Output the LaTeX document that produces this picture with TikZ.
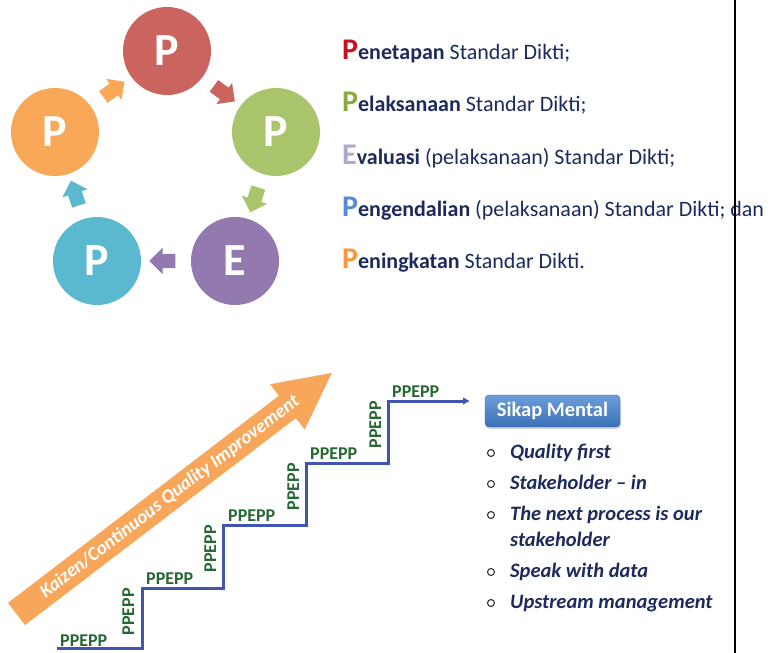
\documentclass[tikz,border=0pt]{standalone}
\usepackage{fontspec}
\setmainfont{Carlito}
\usetikzlibrary{arrows.meta,shapes.arrows,shadows}

\definecolor{ppred}{RGB}{203,100,94}
\definecolor{ppgreen}{RGB}{169,196,106}
\definecolor{pppurple}{RGB}{146,122,175}
\definecolor{ppblue}{RGB}{91,185,207}
\definecolor{pporange}{RGB}{249,168,88}
\definecolor{navy}{RGB}{28,43,92}
\definecolor{capred}{RGB}{200,16,30}
\definecolor{capgreen}{RGB}{140,170,60}
\definecolor{cappurple}{RGB}{180,165,205}
\definecolor{capblue}{RGB}{85,140,215}
\definecolor{caporange}{RGB}{250,150,60}
\definecolor{stairblue}{RGB}{64,84,178}
\definecolor{stepgreen}{RGB}{38,104,52}
\definecolor{kaizen}{RGB}{247,166,90}
\definecolor{sikaptop}{RGB}{108,158,218}
\definecolor{sikapbot}{RGB}{58,112,182}
\definecolor{sikapedge}{RGB}{60,105,170}

\newcommand{\stepinitial}[2]{{\bfseries\fontsize{30}{30}\selectfont\textcolor{#1}{#2}}}

\begin{document}
\begin{tikzpicture}[x=1pt,y=-1pt,
  phase/.style={circle, fill=#1, minimum size=88pt, inner sep=0pt, text=white,
    font=\bfseries\fontsize{46}{46}\selectfont},
  cyclearrow/.style={single arrow, fill=#1, draw=none, minimum height=26pt,
    inner xsep=0pt, inner ysep=7pt, single arrow head extend=6pt,
    midway, sloped, allow upside down},
  item/.style={anchor=base west, inner sep=0pt, text=navy, font=\fontsize{22}{26}\selectfont},
  stair/.style={draw=stairblue, line width=3pt, -{Latex[length=7pt,width=8pt]}},
  ppepp/.style={inner sep=0pt, text=stepgreen, font=\bfseries\fontsize{18}{18}\selectfont},
  kaizentext/.style={transform shape, inner sep=0pt, text=white, font=\bfseries\itshape\fontsize{19}{19}\selectfont},
  sikapbox/.style={rounded corners=4pt, top color=sikaptop, bottom color=sikapbot, draw=sikapedge,
    minimum width=135pt, minimum height=32pt, text=white, font=\bfseries\fontsize{20.5}{20.5}\selectfont,
    drop shadow={opacity=0.3, shadow xshift=1pt, shadow yshift=-2pt}},
  bulletdot/.style={circle, draw=black!80, line width=1.1pt, minimum size=7pt, inner sep=0pt},
  sikapitem/.style={anchor=base west, inner sep=0pt, text=navy, font=\bfseries\itshape\fontsize{20.5}{20.5}\selectfont}]

\fill[white] (0,0) rectangle (782,653);
\useasboundingbox (0,0) rectangle (782,653);

% PPEPP cycle
\node[phase=ppred] (cr) at (167,51) {P};
\node[phase=ppgreen] (cg) at (276,132) {P};
\node[phase=pppurple] (cp) at (235,261) {E};
\node[phase=ppblue] (cb) at (97,261) {P};
\node[phase=pporange] (co) at (55,132) {P};

\path (cr) -- (cg) node[cyclearrow=ppred] (a1) {};
\path (cg) -- (cp) node[cyclearrow=ppgreen] (a2) {};
\path (cp) -- (cb) node[cyclearrow=pppurple] (a3) {};
\path (cb) -- (co) node[cyclearrow=ppblue] (a4) {};
\path (co) -- (cr) node[cyclearrow=pporange] (a5) {};

% the five steps
\node[item] (t1) at (342,59) {\stepinitial{capred}{P}\textbf{enetapan} Standar Dikti;};
\node[item] (t2) at (342,111) {\stepinitial{capgreen}{P}\textbf{elaksanaan} Standar Dikti;};
\node[item] (t3) at (342,164) {\stepinitial{cappurple}{E}\textbf{valuasi} (pelaksanaan) Standar Dikti;};
\node[item] (t4) at (342,216) {\stepinitial{capblue}{P}\textbf{engendalian} (pelaksanaan) Standar Dikti; dan};
\node[item] (t5) at (342,268) {\stepinitial{caporange}{P}\textbf{eningkatan} Standar Dikti.};

% kaizen arrow
\begin{scope}[shift={(16.5,614)}, rotate=37.4]
  \fill[kaizen] (0,-14) -- (341,-14) -- (341,-28.5) -- (397,0) -- (341,28.5) -- (341,14) -- (0,14) -- cycle;
  \node[kaizentext] (kz) at (193,0) {Kaizen/Continuous Quality Improvement};
\end{scope}

% staircase
\draw[stair] (57,648) -| (142,588) -| (223,525) -| (306,463) -| (388,401) -- (470,401);
\node[ppepp, anchor=base west] (h1) at (60,646) {PPEPP};
\node[ppepp, anchor=base west] (h2) at (146,584) {PPEPP};
\node[ppepp, anchor=base west] (h3) at (228,521) {PPEPP};
\node[ppepp, anchor=base west] (h4) at (310,459) {PPEPP};
\node[ppepp, anchor=base west] (h5) at (392,397) {PPEPP};
\node[ppepp, rotate=90, anchor=base east] (v1) at (134,588) {PPEPP};
\node[ppepp, rotate=90, anchor=base east] (v2) at (216,525) {PPEPP};
\node[ppepp, rotate=90, anchor=base east] (v3) at (299,463) {PPEPP};
\node[ppepp, rotate=90, anchor=base east] (v4) at (381,401) {PPEPP};

% sikap mental
\node[sikapbox] (sikap) at (552.5,411) {Sikap Mental};
\node[bulletdot] (b1) at (491,453) {};
\node[bulletdot] (b2) at (491,484) {};
\node[bulletdot] (b3) at (491,515) {};
\node[bulletdot] (b4) at (491,572) {};
\node[bulletdot] (b5) at (491,603) {};
\node[sikapitem] (s1) at (510,458) {Quality first};
\node[sikapitem] (s2) at (510,489) {Stakeholder -- in};
\node[sikapitem] (s3) at (510,520) {The next process is our};
\node[sikapitem] (s3b) at (510,546) {stakeholder};
\node[sikapitem] (s4) at (510,577) {Speak with data};
\node[sikapitem] (s5) at (510,608) {Upstream management};

\draw[line width=2pt] (735,0) -- (735,653);
\end{tikzpicture}
\end{document}
